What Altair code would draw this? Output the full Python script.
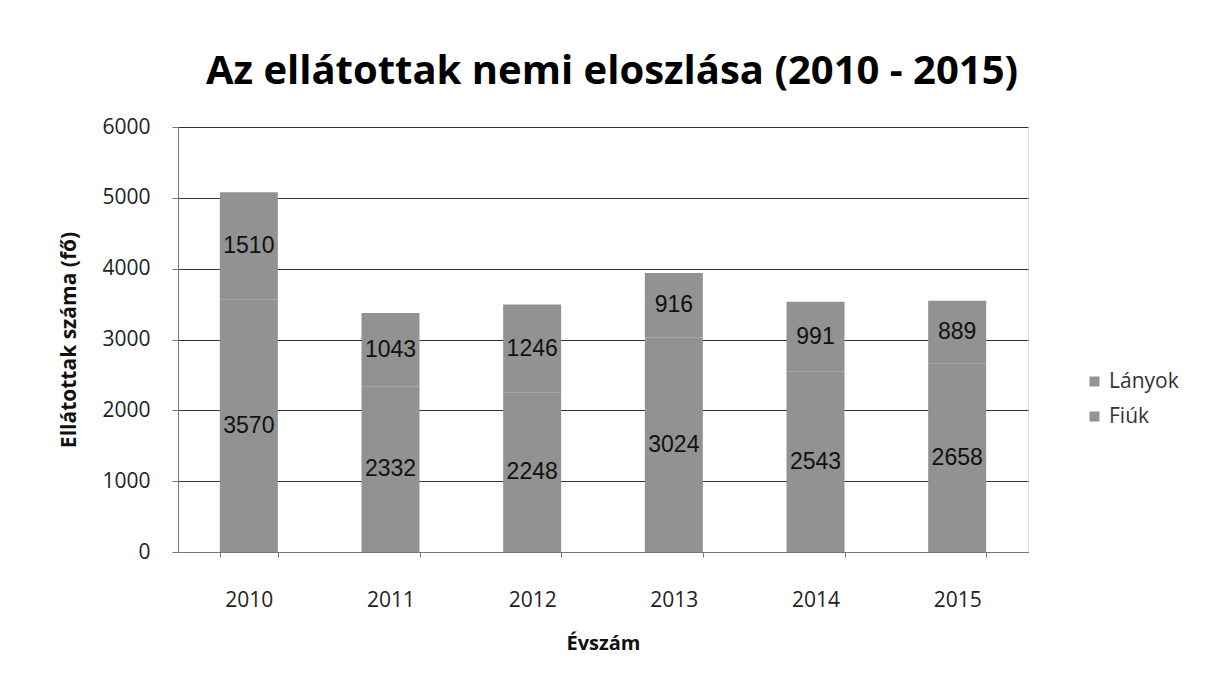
import altair as alt
import pandas as pd

years = ["2010", "2011", "2012", "2013", "2014", "2015"]
fiuk = [3570, 2332, 2248, 3024, 2543, 2658]
lanyok = [1510, 1043, 1246, 916, 991, 889]

rows = []
for y, f, l in zip(years, fiuk, lanyok):
    rows.append({"Évszám": y, "Nem": "Fiúk", "Érték": f, "rend": 0})
    rows.append({"Évszám": y, "Nem": "Lányok", "Érték": l, "rend": 1})
df = pd.DataFrame(rows)

FONT = "Open Sans"
GRAY = "#929292"

base = alt.Chart(df)

bars = base.mark_bar(size=58, color=GRAY).encode(
    x=alt.X("Évszám:N", sort=years,
            scale=alt.Scale(paddingInner=0.59, paddingOuter=0.295),
            axis=alt.Axis(title="Évszám", labelAngle=0, labelFontSize=21, labelFont=FONT,
                          labelColor="#222", labelPadding=32, titleFontSize=20, titleFont=FONT,
                          titleFontWeight="bold", titlePadding=23, titleColor="#111",
                          domainColor="#777", tickColor="#777", tickBand="extent", tickSize=5,
                          grid=False)),
    y=alt.Y("Érték:Q", stack="zero",
            scale=alt.Scale(domain=[0, 6000]),
            axis=alt.Axis(title="Ellátottak száma (fő)", values=[0, 1000, 2000, 3000, 4000, 5000, 6000],
                          format="d",
                          labelFontSize=21, labelFont=FONT, labelColor="#222", labelPadding=22,
                          titleFontSize=21, titleFont=FONT, titleFontWeight="bold", titleColor="#111",
                          titlePadding=22, domainColor="#777", tickColor="#777", tickSize=6,
                          gridColor="#333", gridWidth=1)),
    color=alt.Color("Nem:N",
                    scale=alt.Scale(domain=["Lányok", "Fiúk"], range=[GRAY, GRAY]),
                    legend=alt.Legend(title=None, orient="none", legendX=906, legendY=244,
                                      symbolType="square", symbolSize=100, labelFontSize=21,
                                      labelFont=FONT, labelColor="#333", rowPadding=13,
                                      symbolStrokeWidth=0)),
    order=alt.Order("rend:Q"),
)

labels = base.transform_stack(
    stack="Érték", groupby=["Évszám"], as_=["lo", "hi"], sort=[alt.SortField("rend")]
).transform_calculate(
    mid="(datum.lo + datum.hi) / 2"
).mark_text(fontSize=23, font="Liberation Sans", color="#111", baseline="middle").encode(
    x=alt.X("Évszám:N", sort=years),
    y=alt.Y("mid:Q"),
    text=alt.Text("Érték:Q", format="d"),
)

chart = alt.layer(bars, labels).properties(
    width=850, height=425,
    title=alt.TitleParams("Az ellátottak nemi eloszlása (2010 - 2015)", fontSize=40, font=FONT,
                          fontWeight="bold", color="#000", offset=24, anchor="middle", dx=9),
    padding={"left": 50, "top": 44, "right": 10, "bottom": 10},
).configure_view(stroke=None).configure(background="white")

chart.save("out.html", embed_options={"renderer": "svg", "actions": False})
